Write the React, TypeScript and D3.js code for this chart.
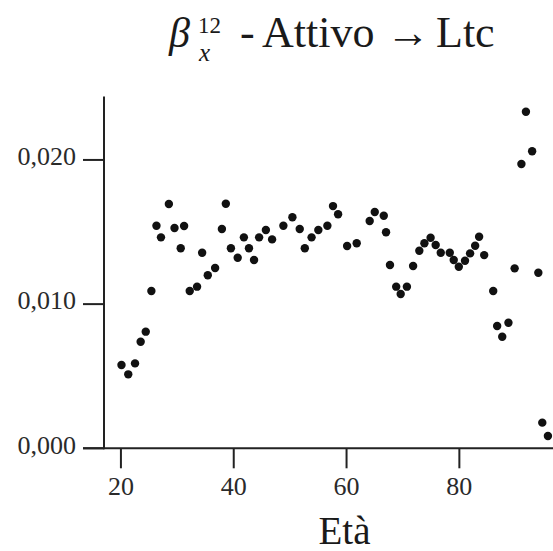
import React from "react";
import * as d3 from "d3";

const ages = [
  20.1, 21.3, 22.5, 23.5, 24.4, 25.4, 26.3, 27.1, 28.5, 29.5,
  30.6, 31.2, 32.2, 33.5, 34.4, 35.4, 36.7, 37.9, 38.6, 39.5,
  40.7, 41.8, 42.7, 43.6, 44.5, 45.7, 46.8, 48.8, 50.4, 51.7,
  52.6, 53.8, 55.0, 56.6, 57.6, 58.5, 60.1, 61.8, 64.1, 65.0,
  66.6, 67.0, 67.7, 68.8, 69.6, 70.7, 71.8, 72.9, 73.8, 74.9,
  75.8, 76.7, 78.3, 79.0, 79.9, 81.0, 81.9, 82.8, 83.5, 84.4,
  86.0, 86.7, 87.6, 88.7, 89.8, 91.0, 91.8, 92.9, 94.0, 94.7,
  95.7,
];

const values = [
  0.00578, 0.00513, 0.00589, 0.00739, 0.00809, 0.01091, 0.01544, 0.01463, 0.01694, 0.01528,
  0.01387, 0.01542, 0.01091, 0.01121, 0.01356, 0.0120, 0.0125, 0.01521, 0.01696, 0.01387,
  0.01322, 0.01463, 0.01387, 0.01306, 0.01463, 0.01514, 0.01449, 0.01544, 0.01602, 0.01521,
  0.01387, 0.01463, 0.01514, 0.01544, 0.0168, 0.01623, 0.01403, 0.01422, 0.01576, 0.01639,
  0.01613, 0.01498, 0.01271, 0.01121, 0.0107, 0.01121, 0.01264, 0.0137, 0.01422, 0.0146,
  0.0141, 0.01356, 0.01356, 0.01306, 0.01259, 0.01301, 0.01352, 0.01405, 0.01467, 0.0134,
  0.01091, 0.00848, 0.00774, 0.00871, 0.01248, 0.01972, 0.02334, 0.0206, 0.01218, 0.00178,
  0.00085,
];

const xTicks = [20, 40, 60, 80];
const yTicks = [0, 0.01, 0.02];
const yTickLabels = ["0,000", "0,010", "0,020"];
const xLabel = "Età";

const W = 553;
const H = 551;
const FONT = "'Liberation Serif', 'Times New Roman', serif";
const INK = "#1a1a1a";

export default function App() {
  const x = d3.scaleLinear().domain([17, 96.6]).range([104, 553]);
  const y = d3.scaleLinear().domain([0, 0.0244]).range([448.3, 96.5]);
  const x0 = x(17);
  const y0 = y(0);
  const pts = ages.map((a, i) => ({ a, v: values[i] }));

  return (
    <svg
      width={W}
      height={H}
      style={{ position: "absolute", left: 0, top: 0, background: "#fff" }}
      fontFamily={FONT}
    >
      <rect width={W} height={H} fill="#fff" />
      {/* title */}
      <g fill={INK} fontFamily={FONT}>
        <text x={169} y={47} fontSize={42} fontStyle="italic">β</text>
        <text x={198} y={33} fontSize={23}>12</text>
        <text x={199} y={61} fontSize={25} fontStyle="italic">x</text>
        <text x={240} y={47} fontSize={44}>-</text>
        <text x={262} y={47} fontSize={44}>Attivo</text>
        <text x={386} y={47} fontSize={44}>→</text>
        <text x={436} y={47} fontSize={44}>Ltc</text>
      </g>

      {/* axes */}
      <line x1={x0} x2={x0} y1={y(0.0244)} y2={y0 + 1} stroke="#222" strokeWidth={2} />
      <line x1={83} x2={W} y1={y0} y2={y0} stroke="#222" strokeWidth={2} />
      {yTicks.map((t, i) => (
        <g key={"y" + t}>
          <line x1={83} x2={x0} y1={y(t)} y2={y(t)} stroke="#222" strokeWidth={2} />
          <text
            x={76}
            y={y(t)}
            dy="0.2em"
            textAnchor="end"
            fontSize={26}
            fill="#2a2a2a"
          >
            {yTickLabels[i]}
          </text>
        </g>
      ))}
      {xTicks.map((t) => (
        <g key={"x" + t}>
          <line x1={x(t)} x2={x(t)} y1={y0} y2={y0 + 20} stroke="#222" strokeWidth={2} />
          <text x={x(t)} y={495} textAnchor="middle" fontSize={26} fill="#2a2a2a">
            {t}
          </text>
        </g>
      ))}
      <text x={344.5} y={544} textAnchor="middle" fontSize={39} fill={INK}>
        {xLabel}
      </text>

      {/* points */}
      {pts.map((p, i) => (
        <circle key={i} cx={x(p.a)} cy={y(p.v)} r={4.2} fill="#111" />
      ))}
    </svg>
  );
}
